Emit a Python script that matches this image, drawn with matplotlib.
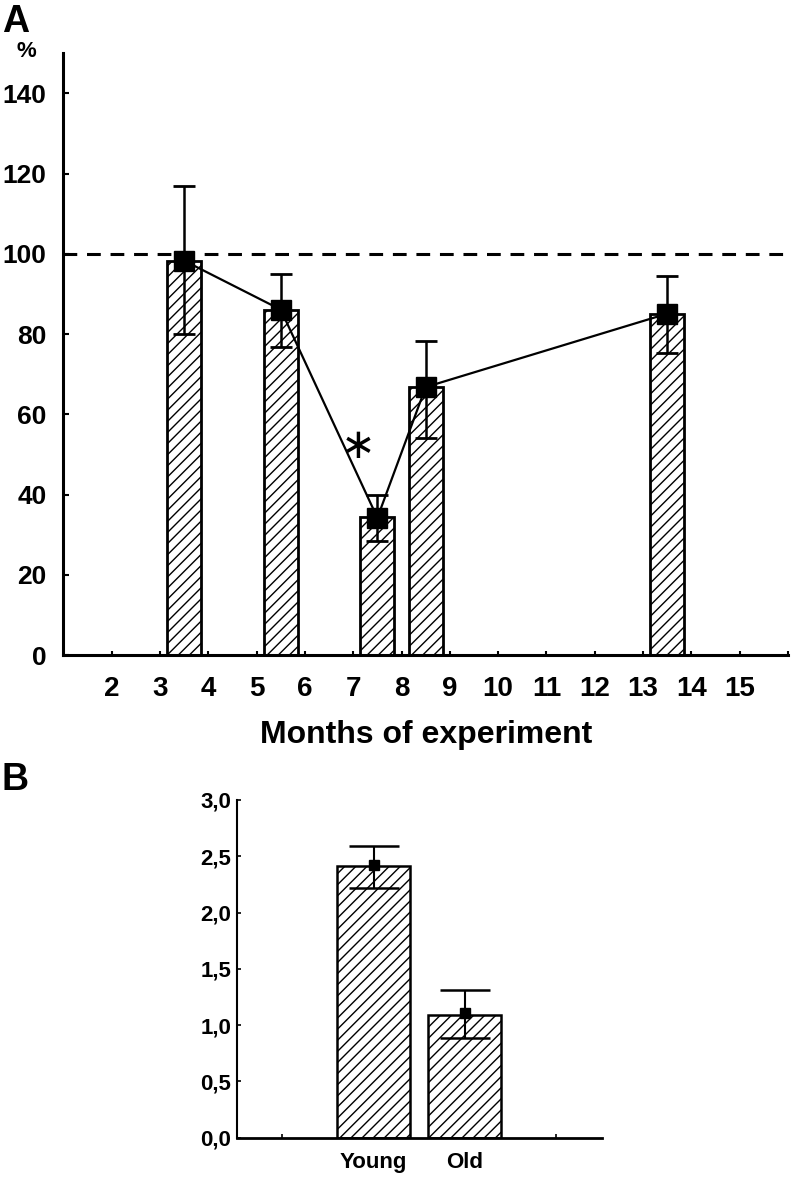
import matplotlib
matplotlib.use('Agg')
import matplotlib.pyplot as plt
from matplotlib.ticker import FixedLocator, FuncFormatter

plt.rcParams['font.family'] = ['Liberation Sans', 'DejaVu Sans']
plt.rcParams['font.weight'] = 'bold'
plt.rcParams['hatch.linewidth'] = 1.0
plt.rcParams['hatch.color'] = 'black'

# 面板A数据：实验月份与百分比
months = [3.5, 5.5, 7.5, 8.5, 13.5]
pct_bar = [98.3, 85.9, 34.4, 66.7, 84.9]
pct_mean = [98.3, 86.1, 34.2, 66.8, 85.1]
pct_upper = [117.0, 95.0, 39.8, 78.4, 94.6]
pct_lower = [80.0, 76.7, 28.4, 54.2, 75.4]
month_ticks = list(range(2, 16))

# 面板B数据：年轻 / 年老
groups = ['Young', 'Old']
ratio_bar = [2.41, 1.09]
ratio_mean = [2.42, 1.11]
ratio_upper = [2.59, 1.31]
ratio_lower = [2.22, 0.89]
ratio_ticks = [0.0, 0.5, 1.0, 1.5, 2.0, 2.5, 3.0]

narrow = ['Liberation Sans Narrow', 'Liberation Sans', 'DejaVu Sans']

fig = plt.figure(figsize=(7.92, 11.79), dpi=100)

# ---- 面板A ----
ax = fig.add_axes([0.0800, 0.4444, 0.915, 0.5104])
ax.bar(months, pct_bar, width=0.7, color='white', edgecolor='black',
       linewidth=2.0, hatch='///', zorder=2)
err_lo = [m - l for m, l in zip(pct_mean, pct_lower)]
err_hi = [u - m for m, u in zip(pct_mean, pct_upper)]
ax.errorbar(months, pct_mean, yerr=[err_lo, err_hi], fmt='none', ecolor='black',
            elinewidth=1.8, capsize=8, capthick=2.0, zorder=3)
ax.plot(months, pct_mean, color='black', linewidth=1.6, marker='s',
        markersize=14, markerfacecolor='black', zorder=4)
ax.axhline(100, color='black', linewidth=2.2, linestyle=(0, (4.5, 3.2)), zorder=1)
# 显著性星号
ax.text(7.1, 52, '\u2217', fontsize=30, ha='center', va='center',
        family=['DejaVu Sans'], fontweight='normal')

ax.set_xlim(1, 16)
ax.set_ylim(0, 150)
ax.set_yticks([0, 20, 40, 60, 80, 100, 120, 140])
ax.xaxis.set_major_locator(FixedLocator(month_ticks + [16]))
ax.set_xticklabels([str(m) for m in month_ticks] + [''])
for s in ['top', 'right']:
    ax.spines[s].set_visible(False)
ax.spines['left'].set_linewidth(2.2)
ax.spines['bottom'].set_linewidth(2.2)
ax.tick_params(axis='y', direction='in', length=4, width=1.5, labelsize=19, pad=12)
ax.tick_params(axis='x', direction='in', length=3, width=1.5, labelsize=20, pad=15)
ax.set_xlabel('Months of experiment', fontsize=23, fontweight='bold', labelpad=13)

fig.text(2 / 792, 1 - 4 / 1179, 'A', fontsize=27, fontweight='bold', ha='left', va='top')
fig.text(26.5 / 792, 1 - 51.5 / 1179, '%', fontsize=16, fontweight='bold', ha='center', va='center')

# ---- 面板B ----
bx = fig.add_axes([0.2989, 0.0350, 0.4609, 0.2865])
xpos = [1, 2]
bx.bar(xpos, ratio_bar, width=0.8, color='white', edgecolor='black',
       linewidth=1.8, hatch='///', zorder=2)
b_lo = [m - l for m, l in zip(ratio_mean, ratio_lower)]
b_hi = [u - m for m, u in zip(ratio_mean, ratio_upper)]
bx.errorbar(xpos, ratio_mean, yerr=[b_lo, b_hi], fmt='s', color='black',
            markersize=6.5, elinewidth=1.5, capsize=18, capthick=1.8, zorder=3)
bx.set_xlim(-0.5, 3.5)
bx.set_ylim(0, 3.0)
bx.yaxis.set_major_locator(FixedLocator(ratio_ticks))
bx.yaxis.set_major_formatter(FuncFormatter(lambda v, p: f'{v:.1f}'.replace('.', ',')))
bx.set_xticks(xpos)
bx.set_xticklabels(groups)
bx.xaxis.set_minor_locator(FixedLocator([0, 3]))
for s in ['top', 'right']:
    bx.spines[s].set_visible(False)
bx.spines['left'].set_linewidth(1.5)
bx.spines['bottom'].set_linewidth(2.0)
bx.tick_params(axis='y', direction='in', length=3, width=1.2, pad=4)
bx.tick_params(axis='x', which='major', length=0, pad=10)
bx.tick_params(axis='x', which='minor', direction='in', length=3, width=1.2)
for lab in bx.get_yticklabels() + bx.get_xticklabels():
    lab.set_family(narrow)
    lab.set_fontsize(16)
    lab.set_fontweight('bold')

fig.text(2 / 792, 1 - 780 / 1179, 'B', fontsize=27, fontweight='bold', ha='left', va='center')

fig.savefig('out.png', dpi=100)
